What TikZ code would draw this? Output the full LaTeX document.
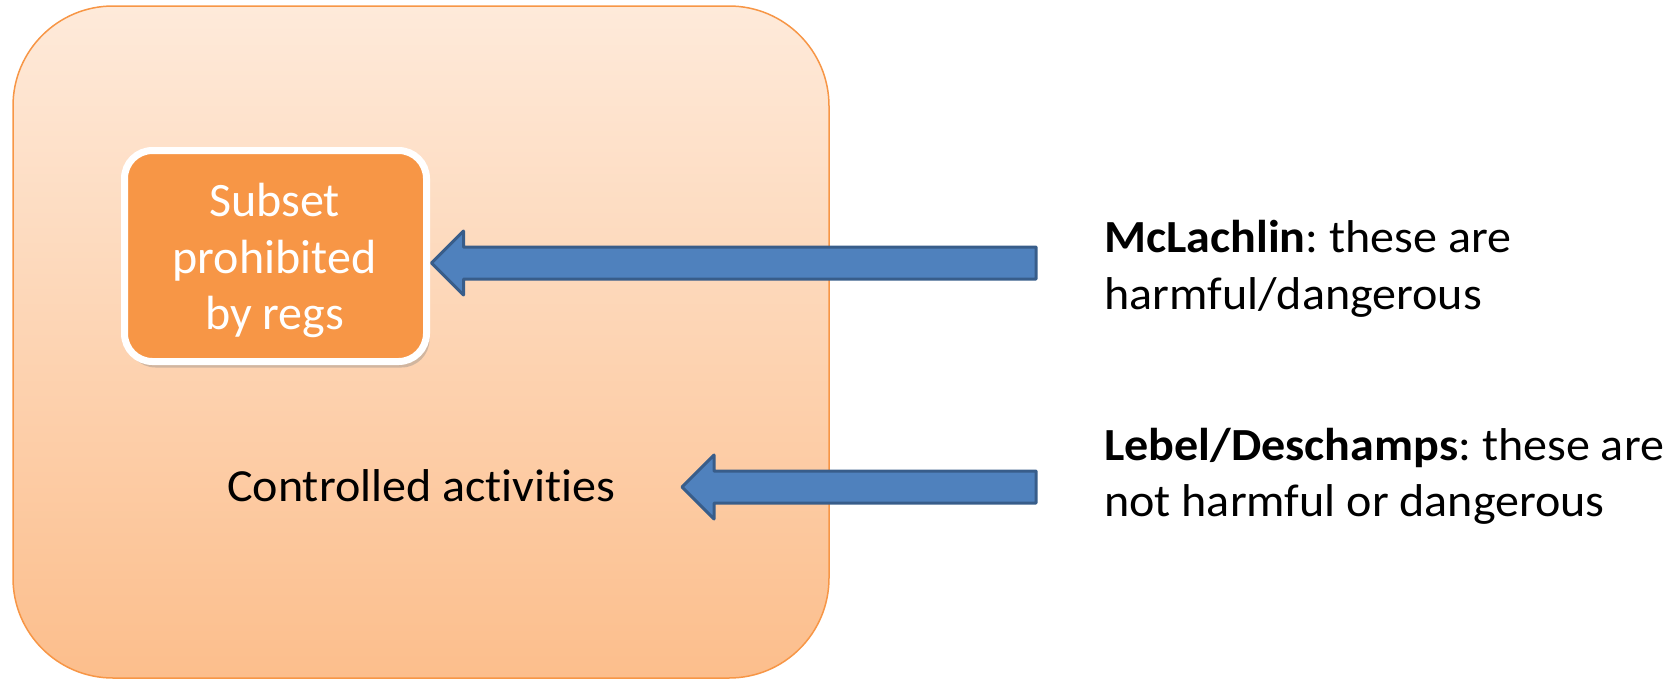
\documentclass[tikz,border=0pt]{standalone}
\usepackage{fontspec}
\setmainfont{Carlito}[Ligatures=NoCommon]
\newfontfamily\widefont{Carlito}[Ligatures=NoCommon, FakeStretch=1.045]
\usetikzlibrary{shadows,calc}
\frenchspacing

\definecolor{accorange}{RGB}{247,150,70}
\definecolor{boxtop}{RGB}{254,234,218}
\definecolor{boxbottom}{RGB}{252,190,140}
\definecolor{arrowblue}{RGB}{79,129,189}
\definecolor{arrowedge}{RGB}{56,93,138}

\tikzset{
  actbox/.style = {draw=accorange, line width=1.5pt, rounded corners=100pt,
    top color=boxtop, bottom color=boxbottom,
    minimum width=816pt, minimum height=672pt},
  regbox/.style = {draw=white, line width=7pt, fill=accorange, rounded corners=28pt,
    minimum width=302pt, minimum height=211pt, inner sep=0pt,
    drop shadow={shadow xshift=3pt, shadow yshift=-6pt, opacity=0.35}},
  regtext/.style = {text=white, inner sep=0pt, anchor=base, font=\fontsize{48}{57}\selectfont},
  blockarrow/.style = {draw=arrowedge, line width=3pt, fill=arrowblue, line join=round},
  bigtext/.style = {inner sep=0pt, font=\widefont\fontsize{46}{54}\selectfont},
}

\begin{document}
\begin{tikzpicture}[x=1pt, y=-1pt]
\useasboundingbox (0,0) rectangle (1676,681);

% controlled activities
\node[actbox] (act) at (421,342) {};
\node[regbox] (sub) at (275.5,256) {};
\node[regtext] (sub1) at (274.5,216.5) {Subset};
\node[regtext] (sub2) at (274.5,273) {prohibited};
\node[regtext] (sub3) at (274.5,329.5) {by regs};
\node[bigtext, anchor=base west] (ctl) at (227,501) {Controlled activities};

% the two readings
\node[bigtext, anchor=base west] (mcl1) at (1104,252) {\textbf{McLachlin}: these are};
\node[bigtext, anchor=base west] (mcl2) at (1104,309) {harmful/dangerous};
\node[bigtext, anchor=base west] (leb1) at (1104,460) {\textbf{Lebel/Deschamps}: these are};
\node[bigtext, anchor=base west] (leb2) at (1104,516) {not harmful or dangerous};

\coordinate (t1) at (1036,263);
\coordinate (t2) at (1036,487);
\coordinate (h2) at (682,487);

\draw[blockarrow] (sub.east) ++(1.5,7) coordinate (h1) -- ++(32,-32) -- ++(0,16)
  -- ([yshift=16pt]t1) -- ([yshift=-16pt]t1) -- ($(h1)+(32,16)$) -- ++(0,16) -- cycle;
\draw[blockarrow] (h2) -- ++(32,-32) -- ++(0,16)
  -- ([yshift=16pt]t2) -- ([yshift=-16pt]t2) -- ($(h2)+(32,16)$) -- ++(0,16) -- cycle;
\end{tikzpicture}
\end{document}
